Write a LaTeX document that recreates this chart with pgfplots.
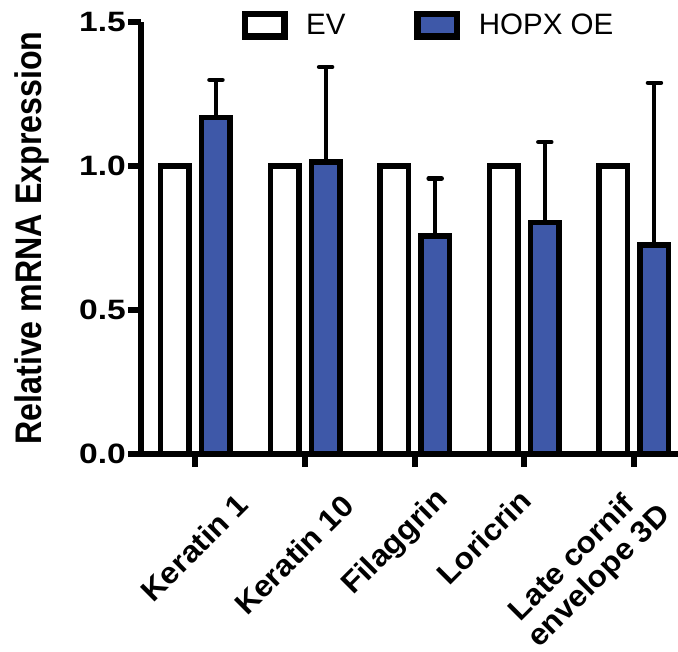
\documentclass[border=0pt]{standalone}
\usepackage{pgfplots}
\pgfplotsset{compat=1.18}
\usepackage{fontspec}
\setmainfont{Liberation Sans}
\newfontfamily\tickfont[FakeStretch=1.2]{Liberation Sans}
\newfontfamily\ylabfont[FakeStretch=0.87]{Liberation Sans}
\newfontfamily\catfont[FakeStretch=1.06]{Liberation Sans}
\definecolor{hopx}{RGB}{62,88,168}
\newcommand{\catstyle}{\catfont\bfseries\fontsize{30bp}{34bp}\selectfont}
\begin{document}
\begin{tikzpicture}
\begin{axis}[
  scale only axis, width=537bp, height=431bp,
  at={(0,0)}, anchor=south west,
  xmin=-0.497, xmax=4.402, ymin=0, ymax=1.5,
  axis x line=bottom, axis y line=left,
  axis line style={-, line width=6bp},
  clip=false,
  xtick={0,1,2,3,4}, xticklabels={},
  ytick={0,0.5,1,1.5},
  tick align=outside,
  major tick length=13bp,
  tick style={line width=6bp, black},
  /pgf/number format/assume math mode=true,
  yticklabel style={font=\tickfont\bfseries\fontsize{28bp}{32bp}\selectfont,
    /pgf/number format/fixed, /pgf/number format/fixed zerofill,
    /pgf/number format/precision=1, inner sep=2bp},
  ylabel={Relative mRNA Expression},
  ylabel style={font=\ylabfont\bfseries\fontsize{37bp}{40bp}\selectfont,
    at={(axis description cs:-0.1844,0.5)}, anchor=base, inner sep=0pt},
  legend columns=2,
  legend style={draw=none, fill=none, inner sep=0pt, outer sep=0pt,
    at={(axis description cs:0.1875,1.0267)}, anchor=north west,
    font=\fontsize{29.5bp}{32bp}\selectfont,
    nodes={inner sep=0pt, anchor=base west},
    /tikz/every odd column/.append style={column sep=18.4bp},
    /tikz/every even column/.append style={column sep=69bp}},
  legend image code/.code={\draw[#1, line width=6.5bp] (0bp,-1.75bp) rectangle (39.5bp,20.75bp);},
]
\addplot[ybar, bar width=28.5bp, bar shift=0pt, draw=black, fill=white, line width=5.5bp]
  coordinates {(-0.187,1) (0.813,1) (1.813,1) (2.813,1) (3.813,1)};
\addlegendentry{EV}
\addplot[ybar, bar width=28.5bp, bar shift=0pt, draw=black, fill=hopx, line width=5.5bp,
  error bars/.cd, y dir=plus, y explicit, error mark=|,
  error bar style={line width=4bp, black},
  error mark options={line width=4.5bp, mark size=6.5bp, line cap=round, black}]
  coordinates {(0.187,1.17) +- (0,0.13)
               (1.187,1.015) +- (0,0.33)
               (2.187,0.757) +- (0,0.20)
               (3.187,0.804) +- (0,0.28)
               (4.187,0.725) +- (0,0.565)};
\addlegendentry{HOPX OE}
\node[font=\catstyle, rotate=45, anchor=base east, inner sep=0pt] at (axis cs:0.497,-0.186) {Keratin 1};
\node[font=\catstyle, rotate=45, anchor=base east, inner sep=0pt] at (axis cs:1.464,-0.190) {Keratin 10};
\node[font=\catstyle, rotate=45, anchor=base east, inner sep=0pt] at (axis cs:2.313,-0.165) {Filaggrin};
\node[font=\catstyle, rotate=45, anchor=base east, inner sep=0pt] at (axis cs:3.084,-0.172) {Loricrin};
\node[font=\catstyle, rotate=45, anchor=base east, inner sep=0pt] at (axis cs:4.019,-0.186) {Late cornif};
\node[font=\catstyle, rotate=45, anchor=base west, inner sep=0pt] at (axis cs:3.134,-0.680) {envelope 3D};
\end{axis}
\pgfresetboundingbox
\useasboundingbox (-141bp,-198.5bp) rectangle (537bp,453.5bp);
\end{tikzpicture}
\end{document}
